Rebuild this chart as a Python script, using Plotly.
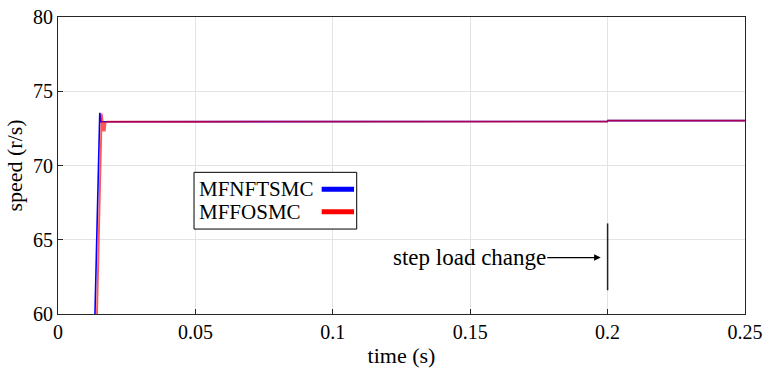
import plotly.graph_objects as go

# Rotor speed response of the two controllers (time in s, speed in r/s)
t_nftsmc = [0.0, 0.0120, 0.01345, 0.0150, 0.0152, 0.0154, 0.0157, 0.0160, 0.0170, 0.0500, 0.1000, 0.1500, 0.1999, 0.2001, 0.2500]
w_nftsmc = [0.0, 45.0, 60.0, 73.5, 73.55, 73.3, 72.9, 72.95, 72.95, 72.95, 72.95, 72.96, 72.96, 73.02, 73.02]

t_ffosmc = [0.0, 0.0128, 0.0142, 0.0157, 0.0159, 0.0162, 0.0165, 0.0167, 0.0170, 0.0173, 0.0177, 0.0500, 0.1000, 0.1500, 0.1999, 0.2001, 0.2500]
w_ffosmc = [0.0, 45.0, 60.0, 73.45, 73.5, 73.0, 72.3, 72.9, 72.3, 72.9, 72.95, 72.95, 72.95, 72.96, 72.96, 73.02, 73.02]

series_names = ["MFNFTSMC", "MFFOSMC"]
series_colors = ["#0000ff", "#ff0000"]

# Load step marker
step_time = 0.2
step_marker_range = [61.6, 66.1]

x_ticks = [0, 0.05, 0.1, 0.15, 0.2, 0.25]
x_tick_text = ["0", "0.05", "0.1", "0.15", "0.2", "0.25"]
y_ticks = [60, 65, 70, 75, 80]

serif = "Liberation Serif"

fig = go.Figure()
fig.add_trace(go.Scatter(x=t_nftsmc, y=w_nftsmc, mode="lines", name=series_names[0],
                         line=dict(color=series_colors[0], width=1.6), showlegend=False))
fig.add_trace(go.Scatter(x=t_ffosmc, y=w_ffosmc, mode="lines", name=series_names[1],
                         line=dict(color=series_colors[1], width=1.9), opacity=0.66, showlegend=False))

# Vertical marker at the load step
fig.add_shape(type="line", x0=step_time, x1=step_time, y0=step_marker_range[0], y1=step_marker_range[1],
              xref="x", yref="y", line=dict(color="#222222", width=1.5))

fig.add_annotation(x=0.1975, y=63.8, ax=0.1775, ay=63.8, axref="x", ayref="y", xref="x", yref="y",
                   text="", showarrow=True, arrowhead=2, arrowsize=1.1, arrowwidth=1.2, arrowcolor="#000000",
                   standoff=0)
fig.add_annotation(x=0.1775, y=63.8, xref="x", yref="y", text="step load change", showarrow=False,
                   xanchor="right", xshift=2,
                   font=dict(family=serif, size=23, color="#000000"))

# Boxed legend with the line samples to the right of the labels
lx0, lx1, ly0, ly1 = 0.198, 0.4348, 0.286, 0.477
fig.add_shape(type="rect", xref="paper", yref="paper", x0=lx0, x1=lx1, y0=ly0, y1=ly1,
              line=dict(color="#000000", width=1), fillcolor="#ffffff", layer="above")
legend_rows = [0.42, 0.3445]
for name, color, yr in zip(series_names, series_colors, legend_rows):
    fig.add_annotation(xref="paper", yref="paper", x=lx0 + 0.004, y=yr, text=name, showarrow=False,
                       xanchor="left", yanchor="middle", font=dict(family=serif, size=21, color="#000000"))
    fig.add_shape(type="line", xref="paper", yref="paper", x0=0.3838, x1=0.4309, y0=yr, y1=yr,
                  line=dict(color=color, width=5), layer="above")

axis_common = dict(showgrid=True, gridcolor="#e3e3e3", gridwidth=1, showline=True, linecolor="#262626",
                   linewidth=1, mirror=True, ticks="inside", ticklen=5, tickcolor="#262626",
                   zeroline=False, automargin=False,
                   tickfont=dict(family=serif, size=20, color="#000000"))

fig.update_layout(
    width=763, height=373,
    margin=dict(l=58, r=18, t=17, b=59),
    paper_bgcolor="#ffffff", plot_bgcolor="#ffffff",
    font=dict(family=serif),
    xaxis=dict(range=[0, 0.25], tickvals=x_ticks, ticktext=x_tick_text,
               title=dict(text="time (s)", font=dict(family=serif, size=22, color="#000000"), standoff=5),
               **axis_common),
    yaxis=dict(range=[60, 80], tickvals=y_ticks,
               title=dict(text="speed (r/s)", font=dict(family=serif, size=22, color="#000000"), standoff=4),
               **axis_common),
    showlegend=False,
)

fig.write_html("out.html")
